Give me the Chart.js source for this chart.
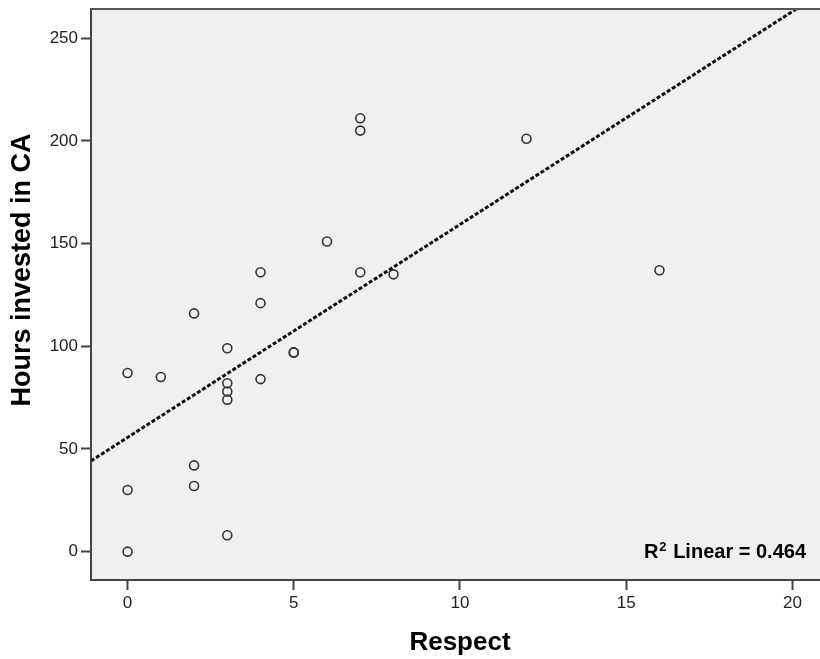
<!DOCTYPE html>
<html>
<head>
<meta charset="utf-8">
<script src="https://cdn.jsdelivr.net/npm/chart.js@4.4.1/dist/chart.umd.min.js"></script>
<style>
  html, body { margin: 0; padding: 0; background: #fff; overflow: hidden; }
  canvas { display: block; }
</style>
</head>
<body>
<canvas id="scatter" width="820" height="659"></canvas>
<script>
const respect = [0, 0, 0, 1, 2, 2, 2, 3, 3, 3, 3, 3, 4, 4, 4, 5, 5, 6, 7, 7, 7, 8, 12, 16]
const hours = [0, 30, 87, 85, 116, 42, 32, 99, 82, 78, 74, 8, 136, 121, 84, 97, 97, 151, 211, 205, 136, 135, 201, 137]
const xTicks = [0, 5, 10, 15, 20]
const yTicks = [0, 50, 100, 150, 200, 250]

const FONT = "'Liberation Sans', Arial, sans-serif"
const X_MIN = -1.1, X_MAX = 20.83
const Y_MIN = -13.8, Y_MAX = 264.2

// least squares fit of hours on respect
const n = respect.length
const mx = respect.reduce((a, b) => a + b, 0) / n
const my = hours.reduce((a, b) => a + b, 0) / n
let sxx = 0, sxy = 0, syy = 0
for (let i = 0; i < n; i++) {
    sxx += (respect[i] - mx) ** 2
    sxy += (respect[i] - mx) * (hours[i] - my)
    syy += (hours[i] - my) ** 2
}
const slope = sxy / sxx
const intercept = my - slope * mx
const r2 = (sxy * sxy) / (sxx * syy)

const points = respect.map((x, i) => ({ x: x, y: hours[i] }))
const fitLine = [X_MIN, X_MAX].map(x => ({ x: x, y: intercept + slope * x }))

const plotBox = {
    id: 'plotBox',
    beforeDraw(chart) {
        const { ctx, chartArea: a } = chart
        ctx.save()
        ctx.fillStyle = '#f0f0f0'
        ctx.fillRect(a.left, a.top, a.right - a.left, a.bottom - a.top)
        ctx.restore()
    },
    afterDraw(chart) {
        const { ctx, chartArea: a } = chart
        ctx.save()
        // top edge of the frame
        ctx.strokeStyle = '#555'
        ctx.lineWidth = 2
        ctx.beginPath()
        ctx.moveTo(a.left, a.top)
        ctx.lineTo(a.right, a.top)
        ctx.stroke()

        // axis titles
        ctx.fillStyle = '#000'
        ctx.textAlign = 'center'
        ctx.textBaseline = 'middle'
        ctx.font = 'bold 26px ' + FONT
        ctx.fillText('Respect', 460, 643)
        ctx.font = 'bold 27px ' + FONT
        ctx.translate(23, 270)
        ctx.rotate(-Math.PI / 2)
        ctx.fillText('Hours invested in CA', 0, 0)
        ctx.restore()

        // fit label, bottom right
        ctx.save()
        ctx.fillStyle = '#000'
        ctx.textBaseline = 'alphabetic'
        ctx.textAlign = 'left'
        const big = 'bold 20px ' + FONT
        const small = 'bold 13px ' + FONT
        const rest = ' Linear = ' + r2.toFixed(3)
        ctx.font = big
        const wR = ctx.measureText('R').width
        const wRest = ctx.measureText(rest).width
        ctx.font = small
        const w2 = ctx.measureText('2').width + 1
        let x = a.right - 15 - (wR + w2 + wRest)
        const y = a.bottom - 22
        ctx.font = big
        ctx.fillText('R', x, y)
        x += wR + 1
        ctx.font = small
        ctx.fillText('2', x, y - 7)
        x += w2
        ctx.font = big
        ctx.fillText(rest, x, y)
        ctx.restore()
    }
}

const ctx = document.querySelector('#scatter').getContext('2d')

new Chart(ctx, {
    type: 'scatter',
    data: {
        datasets: [
            {
                type: 'line',
                data: fitLine,
                borderColor: '#111',
                borderWidth: 3,
                borderDash: [4, 2],
                pointRadius: 0,
                fill: false
            },
            {
                data: points,
                pointRadius: 4.5,
                pointBorderWidth: 1.6,
                pointBorderColor: '#333',
                pointBackgroundColor: 'rgba(0,0,0,0)'
            }
        ]
    },
    options: {
        responsive: false,
        animation: false,
        events: [],
        layout: { autoPadding: false, padding: { top: 9, right: 0, left: 0, bottom: 0 } },
        plugins: {
            legend: { display: false },
            tooltip: { enabled: false }
        },
        scales: {
            x: {
                type: 'linear',
                min: X_MIN,
                max: X_MAX,
                afterBuildTicks: s => { s.ticks = xTicks.map(v => ({ value: v })) },
                afterFit: s => { s.height = 79; s.paddingRight = 0; s.paddingLeft = 0 },
                grid: { drawOnChartArea: false, tickLength: 10, tickWidth: 2, tickColor: '#444' },
                border: { color: '#444', width: 2 },
                ticks: { color: '#222', font: { family: FONT, size: 17 }, padding: 3 }
            },
            y: {
                type: 'linear',
                min: Y_MIN,
                max: Y_MAX,
                afterBuildTicks: s => { s.ticks = yTicks.map(v => ({ value: v })) },
                afterFit: s => { s.width = 91; s.paddingTop = 0; s.paddingBottom = 0 },
                grid: { drawOnChartArea: false, tickLength: 10, tickWidth: 2, tickColor: '#444' },
                border: { color: '#444', width: 2 },
                ticks: { color: '#222', font: { family: FONT, size: 17 }, padding: 3 }
            }
        }
    },
    plugins: [plotBox]
})
</script>
</body>
</html>
